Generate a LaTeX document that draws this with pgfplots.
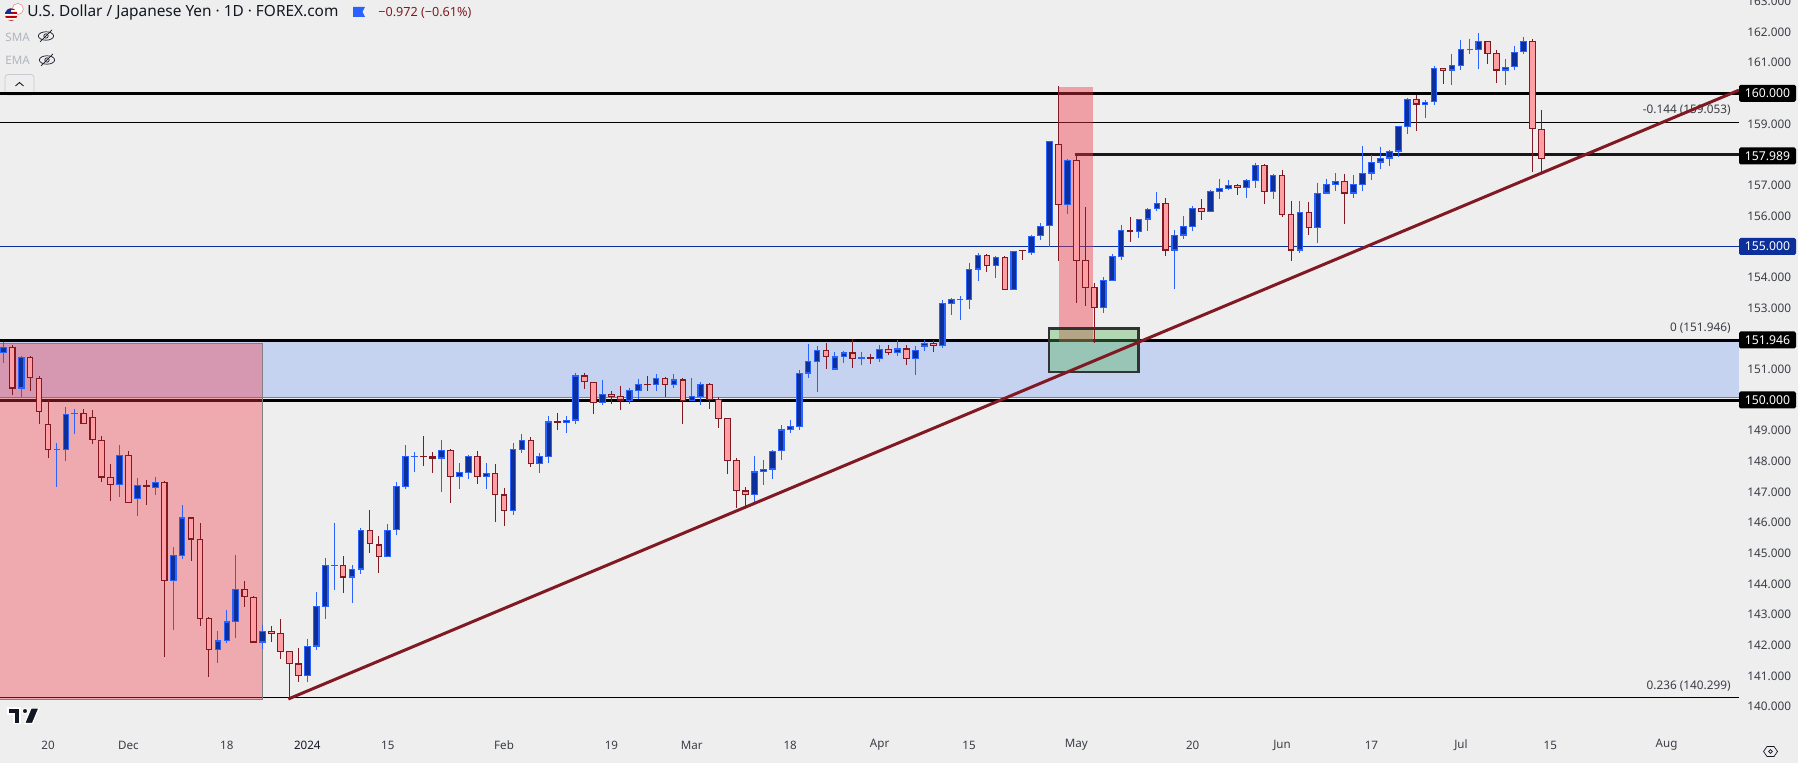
\documentclass[border=0pt]{standalone}
\usepackage{pgfplots}
\usepackage{pgfplotstable}
\usepackage{fontspec}
\pgfplotsset{compat=1.18}
\setmainfont{Noto Sans}
\definecolor{bg}{HTML}{EEEEEE}
\definecolor{upb}{HTML}{2962FF}
\definecolor{upf}{HTML}{0D2F9A}
\definecolor{dnb}{HTML}{801922}
\definecolor{dnf}{HTML}{FF9FA3}
\definecolor{zone}{HTML}{C5D2F0}
\definecolor{rbox}{HTML}{F23645}
\definecolor{gbox}{HTML}{4CAF50}
\definecolor{txt}{HTML}{3A3D45}
\definecolor{ink}{HTML}{131722}
\definecolor{faint}{HTML}{B2B5BE}
\definecolor{navy}{HTML}{0D2F9A}
\definecolor{salmon}{HTML}{F28B8B}
% i top bot hi lo : blue (rising) days
\pgfplotstableread{
i top bot hi lo
0 151.72 151.52 151.90 151.22
2 151.40 150.37 151.44 150.09
6 148.41 148.37 148.60 147.17
7 149.53 148.38 149.76 148.02
8 149.57 149.53 149.71 148.90
13 148.20 147.24 148.53 146.85
15 147.22 146.78 147.45 146.23
17 147.32 147.14 147.48 146.90
19 144.94 144.11 145.20 142.51
20 146.17 144.92 146.57 144.83
24 142.16 141.86 142.46 141.44
25 142.78 142.15 143.15 142.09
26 143.83 142.77 144.94 142.25
29 142.46 142.09 142.66 141.88
34 141.97 141.01 142.21 140.82
35 143.27 141.96 143.74 141.86
36 144.61 143.26 144.85 142.87
37 144.62 144.58 145.99 143.82
39 144.48 144.21 144.61 143.38
40 145.75 144.47 145.83 144.33
43 145.75 144.89 145.96 144.89
44 147.19 145.75 147.32 145.60
45 148.16 147.17 148.53 147.10
46 148.18 148.14 148.30 147.65
49 148.36 148.09 148.70 147.00
51 147.64 147.50 147.94 147.10
52 148.16 147.63 148.21 147.42
54 147.61 147.50 147.94 147.10
57 148.39 146.39 148.60 146.25
58 148.69 148.38 148.89 148.27
60 148.16 147.92 148.26 147.62
61 149.30 148.15 149.48 147.95
63 149.34 149.26 149.48 148.92
64 150.80 149.33 150.88 149.22
67 150.19 149.91 150.65 149.84
70 150.32 149.97 150.39 149.87
71 150.51 150.30 150.69 150.03
73 150.71 150.50 150.85 150.29
75 150.67 150.50 150.85 150.39
77 150.12 149.95 150.72 149.95
78 150.51 150.10 150.59 149.84
84 147.67 146.91 148.17 146.62
85 147.74 147.66 148.04 147.23
86 148.33 147.73 148.37 147.43
87 149.04 148.32 149.18 148.04
88 149.14 149.03 149.35 148.92
89 150.87 149.13 150.98 149.02
90 151.26 150.86 151.83 150.72
91 151.62 151.25 151.76 150.26
93 151.42 150.99 151.57 150.99
94 151.55 151.41 151.60 151.21
96 151.39 151.32 151.57 151.14
98 151.65 151.32 151.79 151.24
100 151.68 151.54 151.96 151.43
102 151.62 151.32 151.76 150.81
103 151.85 151.74 151.96 151.60
105 153.15 151.77 153.26 151.70
106 153.28 153.14 153.33 152.77
107 153.30 153.26 153.39 152.61
108 154.26 153.27 154.47 152.97
109 154.72 154.25 154.79 153.88
111 154.65 154.38 154.70 153.98
113 154.85 153.57 154.85 153.57
115 155.34 154.80 155.38 154.73
116 155.66 155.34 155.76 155.22
117 158.44 155.66 158.44 155.00
119 157.82 156.34 157.86 156.07
123 153.90 153.01 154.00 152.82
124 154.69 153.89 154.76 153.89
125 155.53 154.67 155.71 154.57
127 155.89 155.46 155.89 155.28
128 156.22 155.88 156.26 155.51
129 156.41 156.21 156.78 156.16
131 155.37 154.87 155.54 153.62
132 155.66 155.36 156.00 155.25
133 156.25 155.65 156.33 155.51
135 156.80 156.14 156.85 156.14
136 156.90 156.79 157.21 156.55
137 157.00 156.89 157.17 156.85
139 157.16 156.92 157.21 156.59
140 157.65 157.15 157.73 156.91
142 157.33 156.79 157.37 156.55
145 156.12 154.87 156.49 154.80
147 156.74 155.59 157.08 155.13
148 157.03 156.73 157.21 156.73
149 157.13 157.02 157.40 156.82
151 157.03 156.73 157.34 156.59
152 157.39 157.02 158.28 156.82
153 157.75 157.38 157.99 157.17
154 157.88 157.74 158.25 157.53
155 158.11 157.87 158.15 157.63
156 158.92 158.10 158.92 157.92
157 159.80 158.91 159.85 158.67
159 159.71 159.63 159.78 159.20
160 160.82 159.70 160.89 159.62
162 160.91 160.74 161.28 160.27
163 161.43 160.90 161.74 160.76
164 161.45 161.41 161.77 161.28
165 161.70 161.42 161.97 160.79
168 160.85 160.74 161.12 160.27
169 161.34 160.84 161.54 160.76
170 161.70 161.33 161.84 161.28
}\upc
% i top bot hi lo : red (falling) days
\pgfplotstableread{
i top bot hi lo
1 151.72 150.37 151.78 150.17
3 151.39 150.70 151.44 150.30
4 150.71 149.60 150.78 149.23
5 149.21 148.38 150.00 148.12
9 149.57 149.20 149.71 149.20
10 149.44 148.69 149.67 148.58
11 148.69 147.47 148.82 147.34
12 147.48 147.24 147.91 146.69
14 148.20 146.65 148.34 146.65
16 147.22 147.15 147.39 146.59
18 147.32 144.11 147.36 141.63
21 146.17 145.45 146.17 144.76
22 145.46 142.87 145.98 142.64
23 142.88 141.86 142.92 140.98
27 143.83 143.56 144.10 143.26
28 143.57 142.09 143.61 142.06
30 142.46 142.38 142.63 142.12
31 142.39 141.79 142.86 141.57
32 141.81 141.40 141.81 140.26
33 141.41 141.01 141.91 140.82
38 144.61 144.21 144.91 143.69
41 145.75 145.29 146.41 145.02
42 145.29 144.89 145.57 144.37
47 148.18 148.14 148.83 147.85
48 148.16 148.09 148.30 147.62
50 148.36 147.50 148.40 146.65
53 148.16 147.50 148.34 147.26
55 147.61 146.91 147.90 146.03
56 146.92 146.39 147.13 145.90
59 148.69 147.92 148.79 147.82
62 149.32 149.26 149.58 149.02
65 150.80 150.57 150.88 150.36
66 150.58 149.91 150.58 149.54
68 150.19 150.10 150.29 149.87
69 150.12 149.98 150.46 149.67
72 150.52 150.48 150.78 150.29
74 150.71 150.50 150.74 150.08
76 150.67 149.95 150.72 149.22
79 150.51 150.01 150.55 149.71
80 150.02 149.39 150.09 149.09
81 149.40 148.02 149.40 147.59
82 148.03 147.04 148.11 146.48
83 147.05 146.91 147.16 146.52
92 151.62 151.41 151.86 151.01
95 151.55 151.32 151.99 151.04
97 151.39 151.32 151.50 151.17
99 151.65 151.54 151.79 151.47
101 151.68 151.32 151.79 151.14
104 151.85 151.77 151.96 151.57
110 154.72 154.38 154.76 154.17
112 154.65 153.57 154.70 153.57
114 154.88 154.84 154.89 154.57
118 158.34 156.34 160.24 154.53
120 157.82 154.54 157.99 153.17
121 154.55 153.66 156.29 153.07
122 153.67 153.01 153.80 151.87
126 155.53 155.46 155.97 155.15
130 156.41 154.87 156.59 154.70
134 156.25 156.14 156.55 155.87
138 157.00 156.92 157.04 156.69
141 157.65 156.79 157.70 156.39
143 157.33 156.04 157.50 155.97
144 156.05 154.87 156.49 154.53
146 156.12 155.59 156.46 155.39
150 157.13 156.73 157.37 155.74
158 159.80 159.63 159.95 158.77
161 160.82 160.74 160.82 160.30
166 161.70 161.29 161.70 160.96
167 161.30 160.74 161.41 160.34
171 161.70 158.82 161.77 157.43
172 158.83 157.84 159.46 157.41
}\dnc
\newcommand{\fs}[1]{\fontsize{#1}{#1}\selectfont}
\begin{document}
\begin{tikzpicture}
\useasboundingbox (0,0) rectangle (899pt,381.5pt);
\fill[bg] (0,0) rectangle (899pt,381.5pt);
\begin{scope}[yshift=381.5pt,x=0.5pt,y=-0.5pt]
 % flag
 \filldraw[fill=white,draw=salmon,line width=0.3pt] (17.8,9) circle (2.8pt);
 \begin{scope}
  \clip (11.2,14.6) circle (3.1pt);
  \fill[white] (5,8) rectangle (18,21);
  \fill[red!75!black] (5,8) rectangle (18,10) (5,12) rectangle (18,14) (5,16) rectangle (18,18) (5,20) rectangle (18,22);
  \fill[navy] (5,8) rectangle (11,14.5);
 \end{scope}
 \node[anchor=west,inner sep=0,text=ink,font=\fs{7.7pt}] at (27,13) {U.S. Dollar / Japanese Yen · 1D · FOREX.com};
 \fill[upb] (353,7) -- (365,7) -- (362.5,12) -- (365,17) -- (353,17) -- cycle;
 \node[anchor=west,inner sep=0,text=dnb,font=\fs{6.3pt}] at (378,13) {−0.972 (−0.61\%)};
 \node[anchor=west,inner sep=0,text=faint,font=\fs{5.8pt}] at (5,37) {SMA};
 \node[anchor=west,inner sep=0,text=faint,font=\fs{5.8pt}] at (5,60.5) {EMA};
 \foreach \ex/\ey in {46/36,47/60}{
  \draw[ink,line width=0.35pt] (\ex,\ey) ellipse (3.8pt and 2.1pt);
  \draw[ink,line width=0.35pt] (\ex,\ey) circle (1.1pt);
  \draw[ink,line width=0.35pt] (\ex-6,\ey+6) -- (\ex+6,\ey-6);
 }
 \draw[faint!70!white,fill=bg,line width=0.4pt,rounded corners=1.5pt] (5,74.5) rectangle (34,95);
 \draw[ink,line width=0.45pt] (15.5,86) -- (19.5,82.5) -- (23.5,86);
 % fibonacci level labels
 \node[anchor=east,inner sep=0,text=txt,font=\fs{5.9pt}] at (1731,110) {-0.144 (159.053)};
 \node[anchor=east,inner sep=0,text=txt,font=\fs{5.9pt}] at (1731,328) {0 (151.946)};
 \node[anchor=east,inner sep=0,text=txt,font=\fs{5.9pt}] at (1731,686) {0.236 (140.299)};
\end{scope}
\begin{axis}[
  at={(0,16.5pt)},anchor=south west,
  scale only axis,width=869.5pt,height=365pt,
  xmin=-0.369,xmax=194.1,ymin=139.24,ymax=163.04,
  axis line style={draw=none},
  major tick length=0pt,
  ytick pos=right,yticklabel pos=right,
  ytick={140,141,142,143,144,145,146,147,148,149,151,153,154,156,157,159,161,162,163},
  yticklabel style={font=\fs{5.9pt},text=txt,inner sep=0pt,xshift=4pt,
    /pgf/number format/.cd,fixed,fixed zerofill,precision=3,1000 sep={},assume math mode=true},
  xtick={5,14,25,34,43,56,68,77,88,98,108,120,133,143,153,163,173,186},
  xticklabels={20,Dec,18,\textcolor{ink}{2024},15,Feb,19,Mar,18,Apr,15,May,20,Jun,17,Jul,15,Aug},
  xticklabel style={font=\fs{5.8pt},text=txt,inner sep=0pt,anchor=center,yshift=-7.5pt},
  clip=true,
]
% zone and levels
\addplot[fill=zone,draw=none,forget plot] coordinates {(-0.369,150.087)(-0.369,151.946)(194.1,151.946)(194.1,150.087)} --cycle;
\addplot[gray,line width=0.5pt,forget plot] coordinates {(-0.369,150.087)(194.1,150.087)};
\addplot[black,line width=1.5pt,forget plot] coordinates {(-0.369,160)(194.1,160)};
\addplot[black,line width=1.25pt,forget plot] coordinates {(-0.369,151.946)(194.1,151.946)};
\addplot[black,line width=1.3pt,forget plot] coordinates {(-0.369,149.985)(194.1,149.985)};
\addplot[black!90,line width=1.5pt,forget plot] coordinates {(119.85,157.989)(194.1,157.989)};
\addplot[black,line width=0.5pt,forget plot] coordinates {(-0.369,159.053)(194.1,159.053)};
\addplot[navy,line width=0.5pt,forget plot] coordinates {(-0.369,155)(194.1,155)};
\addplot[black,line width=0.5pt,forget plot] coordinates {(-0.369,140.299)(194.1,140.299)};
% boxes
\addplot[fill=rbox,fill opacity=0.37,draw=gray,line width=0.5pt,forget plot] coordinates {(-2,140.25)(-2,151.83)(29,151.83)(29,140.25)} --cycle;
\addplot[fill=rbox,fill opacity=0.42,draw=none,forget plot] coordinates {(118.05,151.9)(118.05,160.21)(121.85,160.21)(121.85,151.9)} --cycle;
\addplot[fill=gbox,fill opacity=0.36,draw=black!80,line width=1.15pt,forget plot] coordinates {(116.9,150.9)(116.9,152.33)(126.95,152.33)(126.95,150.9)} --cycle;
% wicks
\addplot[draw=none,mark=none,forget plot,error bars/.cd,y dir=minus,y explicit,error mark=none,error bar style={line width=0.5pt,draw=upb}]
  table[x=i,y=hi,y error minus expr=\thisrow{hi}-\thisrow{lo}] {\upc};
\addplot[draw=none,mark=none,forget plot,error bars/.cd,y dir=minus,y explicit,error mark=none,error bar style={line width=0.5pt,draw=dnb}]
  table[x=i,y=hi,y error minus expr=\thisrow{hi}-\thisrow{lo}] {\dnc};
% bodies: border, then fill
\addplot[draw=none,mark=none,forget plot,error bars/.cd,y dir=minus,y explicit,error mark=none,error bar style={line width=3.35pt,draw=upb}]
  table[x=i,y=top,y error minus expr=\thisrow{top}-\thisrow{bot}] {\upc};
\addplot[draw=none,mark=none,forget plot,error bars/.cd,y dir=minus,y explicit,error mark=none,error bar style={line width=2.2pt,draw=upf}]
  table[x=i,y expr=\thisrow{top}-0.036,y error minus expr={max(\thisrow{top}-\thisrow{bot}-0.072,0)}] {\upc};
\addplot[draw=none,mark=none,forget plot,error bars/.cd,y dir=minus,y explicit,error mark=none,error bar style={line width=3.35pt,draw=dnb}]
  table[x=i,y=top,y error minus expr=\thisrow{top}-\thisrow{bot}] {\dnc};
\addplot[draw=none,mark=none,forget plot,error bars/.cd,y dir=minus,y explicit,error mark=none,error bar style={line width=2.2pt,draw=dnf}]
  table[x=i,y expr=\thisrow{top}-0.036,y error minus expr={max(\thisrow{top}-\thisrow{bot}-0.072,0)}] {\dnc};
% trend line
\addplot[dnb,line width=1.5pt,forget plot] coordinates {(31.87,140.25)(194.1,160.1)};
\end{axis}
\begin{scope}[yshift=381.5pt,x=0.5pt,y=-0.5pt]
 \foreach \py/\lab/\col in {93.3/160.000/black,156/157.989/black,246.5/155.000/navy,340/151.946/black,400/150.000/black}{
  \fill[\col,rounded corners=0.8pt] (1739,\py-8.5) rectangle (1796,\py+8.5);
  \node[text=white,inner sep=0,font=\fs{6.1pt}\bfseries] at (1767.5,\py) {\lab};
 }
 % logo
 \begin{scope}[ink,line width=0.6pt]
  \filldraw[draw=white,fill=ink] (8,708) -- (20,708) -- (20,723.5) -- (14,723.5) -- (14,714) -- (8,714) -- cycle;
  \filldraw[draw=white,fill=ink] (25,711) circle (1.4pt);
  \filldraw[draw=white,fill=ink] (31,708) -- (39,708) -- (32.5,723.5) -- (24.5,723.5) -- cycle;
 \end{scope}
 % settings
 \draw[ink,line width=0.35pt] (1763.5,751.5) -- (1767,746.5) -- (1774,746.5) -- (1777.5,751.5) -- (1774,756.5) -- (1767,756.5) -- cycle;
 \draw[ink,line width=0.35pt] (1770.5,751.5) circle (0.9pt);
\end{scope}
\end{tikzpicture}
\end{document}
